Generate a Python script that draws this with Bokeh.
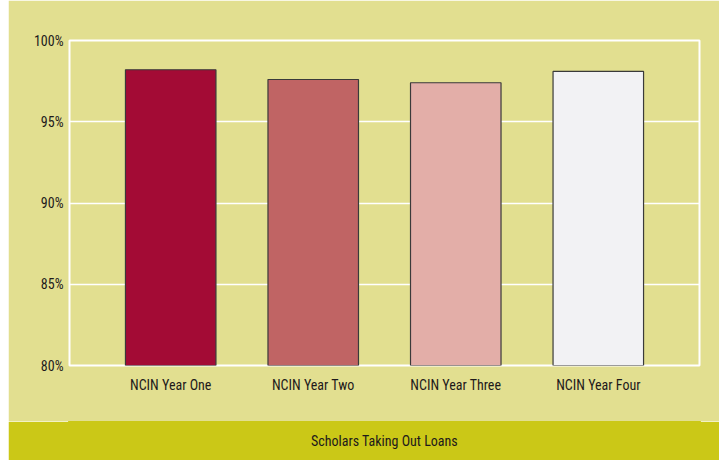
from bokeh.plotting import figure
from bokeh.models import FactorRange, Range1d, PrintfTickFormatter, ColumnDataSource, Label
from bokeh.layouts import column
from bokeh.embed import file_html
from bokeh.resources import INLINE

categories = ["NCIN Year One", "NCIN Year Two", "NCIN Year Three", "NCIN Year Four"]
values = [98.2, 97.6, 97.4, 98.1]
colors = ["#a30b35", "#c06464", "#e3aea8", "#f2f2f4"]
y_ticks = [80, 85, 90, 95, 100]
title_text = "Scholars Taking Out Loans"

BG = "#e2df90"
BAND = "#cbc817"
TXT = "#1e1a1b"
FONT = "'Roboto Condensed', 'Roboto Medium', Roboto"

W, H = 711, 421
ML, MR, MT, MB = 61, 20, 40, 56

src = ColumnDataSource(dict(cat=categories, val=values, color=colors))

p = figure(width=W, height=H, output_backend="svg", toolbar_location=None,
           x_range=FactorRange(factors=categories, range_padding=0.21, range_padding_units="absolute"),
           y_range=Range1d(80, 100),
           min_border_left=ML, min_border_right=MR, min_border_top=MT, min_border_bottom=MB)
p.background_fill_color = BG
p.border_fill_color = BG
p.outline_line_color = "white"
p.outline_line_width = 2

p.vbar(x="cat", top="val", bottom=80, width=0.635, source=src,
       fill_color="color", line_color="#3a3a3a", line_width=1.2)

p.xgrid.grid_line_color = None
p.ygrid.grid_line_color = "white"
p.ygrid.grid_line_width = 1.5
p.ygrid.ticker = y_ticks

p.yaxis.ticker = y_ticks
p.yaxis.formatter = PrintfTickFormatter(format="%d%%")
for ax in (p.xaxis, p.yaxis):
    ax.axis_line_color = None
    ax.major_tick_line_color = None
    ax.minor_tick_line_color = None
    ax.major_tick_out = 0
    ax.major_tick_in = 0
    ax.minor_tick_out = 0
    ax.minor_tick_in = 0
    ax.major_label_text_font = FONT
    ax.major_label_text_font_size = "14px"
    ax.major_label_text_color = TXT
p.yaxis.major_label_standoff = 6
p.xaxis.major_label_standoff = 11

band = figure(width=W, height=39, output_backend="svg", toolbar_location=None,
              x_range=Range1d(0, 1), y_range=Range1d(0, 1),
              min_border_left=ML, min_border_right=MR, min_border_top=0, min_border_bottom=0)
band.background_fill_color = BAND
band.border_fill_color = BAND
band.outline_line_color = BAND
band.outline_line_width = 3
band.axis.visible = False
band.grid.visible = False
band.add_layout(Label(x=0.5, y=0.5, text=title_text, text_align="center", text_baseline="middle",
                      text_font=FONT, text_font_size="14px", text_color=TXT))

layout = column(p, band, spacing=0)
layout.margin = (0, 0, 0, 8)

open("out.html", "w").write(file_html(layout, INLINE))
